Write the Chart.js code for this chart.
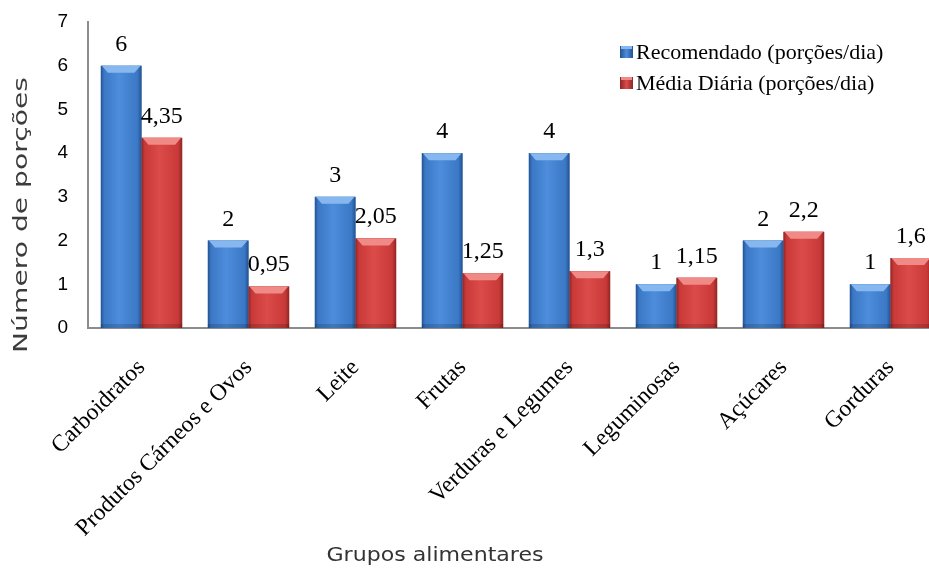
<!DOCTYPE html>
<html>
<head>
<meta charset="utf-8">
<script src="https://cdn.jsdelivr.net/npm/chart.js@4.4.1/dist/chart.umd.min.js"></script>
<style>
  html, body { margin: 0; padding: 0; background: #fff; overflow: hidden; }
  #wrap { width: 945px; height: 569px; position: relative; }
</style>
</head>
<body>
<div id="wrap"><canvas id="chart" width="945" height="569"></canvas></div>
<script>
const categories = [
  "Carboidratos",
  "Produtos Cárneos e Ovos",
  "Leite",
  "Frutas",
  "Verduras e Legumes",
  "Leguminosas",
  "Açúcares",
  "Gorduras"
];
const recomendado = [6, 2, 3, 4, 4, 1, 2, 1];
const mediaDiaria = [4.35, 0.95, 2.05, 1.25, 1.3, 1.15, 2.2, 1.6];
const seriesNames = ["Recomendado (porções/dia)", "Média Diária (porções/dia)"];
const yTicks = [0, 1, 2, 3, 4, 5, 6, 7];
const xTitle = "Grupos alimentares";
const yTitle = "Número de porções";

const palettes = [
  { dark: "#24528f", mid: "#3b78c6", light: "#4d8ddb", bevel: "#86b8ef" },
  { dark: "#8e2626", mid: "#c93938", light: "#db4b49", bevel: "#f08a87" }
];

const fmt = (v) => String(v).replace(".", ",");

// bevelled bar look, legend, value labels and axis titles
const decorPlugin = {
  id: "decor",
  afterDatasetsDraw(chart) {
    const ctx = chart.ctx;
    chart.data.datasets.forEach((ds, di) => {
      const pal = palettes[di];
      chart.getDatasetMeta(di).data.forEach((bar, i) => {
        const p = bar.getProps(["x", "y", "base", "width"], true);
        const l = p.x - p.width / 2, r = p.x + p.width / 2;
        const t = p.y, b = p.base;
        ctx.save();
        const g = ctx.createLinearGradient(l, 0, r, 0);
        g.addColorStop(0, pal.dark);
        g.addColorStop(0.08, pal.mid);
        g.addColorStop(0.45, pal.light);
        g.addColorStop(0.9, pal.mid);
        g.addColorStop(1, pal.dark);
        ctx.fillStyle = g;
        ctx.fillRect(l, t, r - l, b - t);
        const bev = Math.min(7, (b - t) / 3);
        ctx.fillStyle = pal.bevel;
        ctx.beginPath();
        ctx.moveTo(l + 1, t);
        ctx.lineTo(r - 1, t);
        ctx.lineTo(r - bev, t + bev);
        ctx.lineTo(l + bev, t + bev);
        ctx.closePath();
        ctx.fill();
        ctx.fillStyle = "rgba(0,0,0,0.15)";
        ctx.fillRect(l, b - 4, r - l, 4);
        ctx.restore();

        ctx.save();
        ctx.font = "24px 'Liberation Serif'";
        ctx.fillStyle = "#000";
        ctx.textAlign = "center";
        ctx.textBaseline = "alphabetic";
        ctx.fillText(fmt(ds.data[i]), p.x, t - 15);
        ctx.restore();
      });
    });
  },
  afterDraw(chart) {
    const ctx = chart.ctx;
    // legend
    ctx.save();
    ctx.font = "22px 'Liberation Serif'";
    ctx.textBaseline = "middle";
    seriesNames.forEach((name, i) => {
      const pal = palettes[i];
      const y = 52 + i * 31;
      const g = ctx.createLinearGradient(620, 0, 633, 0);
      g.addColorStop(0, pal.dark);
      g.addColorStop(0.5, pal.light);
      g.addColorStop(1, pal.dark);
      ctx.fillStyle = g;
      ctx.fillRect(620, y - 6, 13, 12);
      ctx.fillStyle = pal.bevel;
      ctx.fillRect(621, y - 6, 11, 3);
      ctx.fillStyle = "#000";
      ctx.fillText(name, 636, y + 1);
    });
    ctx.restore();

    // axis titles
    ctx.save();
    ctx.fillStyle = "#333";
    ctx.textAlign = "center";
    ctx.textBaseline = "middle";
    ctx.font = "19px 'DejaVu Sans'";
    let w = ctx.measureText(xTitle).width;
    ctx.translate(435, 556);
    ctx.scale(217 / w, 1);
    ctx.fillText(xTitle, 0, 0);
    ctx.restore();

    ctx.save();
    ctx.fillStyle = "#3c3c3c";
    ctx.textAlign = "center";
    ctx.textBaseline = "middle";
    ctx.font = "20px 'DejaVu Sans'";
    w = ctx.measureText(yTitle).width;
    ctx.translate(22, 215);
    ctx.rotate(-Math.PI / 2);
    ctx.scale(276 / w, 1);
    ctx.fillText(yTitle, 0, 0);
    ctx.restore();
  }
};

new Chart(document.getElementById("chart"), {
  type: "bar",
  data: {
    labels: categories,
    datasets: [
      { label: seriesNames[0], data: recomendado, backgroundColor: palettes[0].mid },
      { label: seriesNames[1], data: mediaDiaria, backgroundColor: palettes[1].mid }
    ]
  },
  options: {
    responsive: false,
    animation: false,
    devicePixelRatio: 1,
    layout: { padding: { top: 22, right: 1, left: 0, bottom: 0 } },
    datasets: { bar: { categoryPercentage: 0.76, barPercentage: 1 } },
    plugins: { legend: { display: false }, tooltip: { enabled: false } },
    scales: {
      x: {
        grid: { display: false, drawTicks: false },
        border: { color: "#8c8c8c", width: 2 },
        ticks: {
          minRotation: 45,
          maxRotation: 45,
          padding: 26,
          color: "#000",
          font: { family: "'Liberation Serif'", size: 23.5 }
        },
        afterFit(scale) {
          scale.height = 241;
          scale.paddingLeft = 0;
          scale.paddingRight = 0;
        }
      },
      y: {
        min: 0,
        max: 7,
        afterBuildTicks(scale) { scale.ticks = yTicks.map((v) => ({ value: v })); },
        grid: { display: false, drawTicks: false },
        border: { color: "#8c8c8c", width: 2 },
        ticks: {
          padding: 20,
          color: "#000",
          font: { family: "'Liberation Sans'", size: 19 }
        },
        afterFit(scale) {
          scale.width = 88;
          scale.paddingTop = 0;
          scale.paddingBottom = 0;
        }
      }
    }
  },
  plugins: [decorPlugin]
});
</script>
</body>
</html>
